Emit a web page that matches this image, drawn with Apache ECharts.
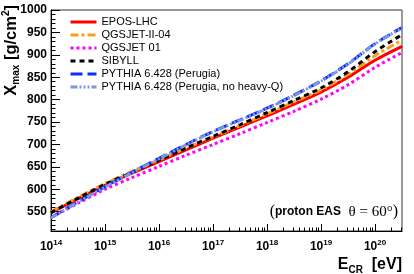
<!DOCTYPE html>
<html>
<head>
<meta charset="utf-8">
<script src="https://cdn.jsdelivr.net/npm/echarts@6/dist/echarts.min.js"></script>
<style>html,body{margin:0;padding:0;background:#fff;}#c{width:414px;height:274px;}</style>
</head>
<body>
<div id="c"></div>
<script>
// log10(E_CR / eV)
var logE = [14, 14.5, 15, 15.5, 16, 16.5, 17, 17.5, 18, 18.5, 19, 19.5, 20, 20.5];
var eposLHC   = [548, 579, 609, 636, 662, 688, 714, 739, 764, 790, 817, 850, 888, 919];
var qgsjetII04 = [550, 582, 613, 640, 666, 692, 717, 742, 768, 795, 822, 856, 898, 933];
var qgsjet01  = [537, 569, 600, 626, 651, 676, 700, 724, 749, 774, 801, 833, 872, 905];
var sibyll    = [548, 580, 611, 638, 665, 692, 718, 744, 771, 798, 826, 862, 907, 945];
var pythia    = [537, 572, 606, 638, 669, 700, 729, 755, 781, 810, 842, 880, 925, 961];
var pythiaNHQ = [536, 571, 605, 637, 668, 699, 728, 754, 780, 809, 841, 879, 924, 960];
var seriesNames = ['EPOS-LHC', 'QGSJET-II-04', 'QGSJET 01', 'SIBYLL', 'PYTHIA 6.428 (Perugia)', 'PYTHIA 6.428 (Perugia, no heavy-Q)'];
var xDecades = [14, 15, 16, 17, 18, 19, 20];
var yTicks = [550, 600, 650, 700, 750, 800, 850, 900, 950, 1000];

var FONT = '"Liberation Sans", Arial, Helvetica, sans-serif';
var SERIF = '"Liberation Serif", "Times New Roman", serif';
var xMin = 14, xMax = 20.5, yMin = 507, yMax = 1000;

var xMinor = [];
for (var d = 14; d <= 20; d++) {
  for (var k = 2; k <= 9; k++) {
    var v = d + Math.log10(k);
    if (v <= xMax) xMinor.push(v);
  }
}
var yMinor = [];
for (var y = 510; y <= 1000; y += 10) yMinor.push(y);

function pairs(vals) { return logE.map(function (x, i) { return [x, vals[i]]; }); }

var styles = [
  { color: '#ff0000', type: 'solid' },
  { color: '#ff9a1a', type: [8, 3, 3, 3] },
  { color: '#ff00ff', type: [3, 3] },
  { color: '#000000', type: [5, 4] },
  { color: '#0a2cff', type: [12, 5] },
  { color: '#7a9ae0', type: [7, 2, 2, 2, 2, 2, 2, 2] }
];
var dataSets = [eposLHC, qgsjetII04, qgsjet01, sibyll, pythia, pythiaNHQ];

var chart = echarts.init(document.getElementById('c'), null, { renderer: 'canvas' });
chart.setOption({
  animation: false,
  backgroundColor: '#fff',
  grid: { left: 51, right: 12, top: 10, bottom: 43, show: true, borderColor: '#333', borderWidth: 1, backgroundColor: 'transparent' },
  legend: {
    orient: 'vertical', left: 64, top: 11, itemWidth: 26, itemHeight: 12, itemGap: 1,
    selectedMode: false,
    textStyle: { fontSize: 11, fontFamily: FONT, color: '#000', lineHeight: 12 },
    lineStyle: { width: 3 },
    itemStyle: { opacity: 0, color: 'transparent', borderWidth: 0 },
    data: seriesNames
  },
  xAxis: [
    {
      type: 'value', min: xMin, max: xMax, position: 'bottom',
      axisLine: { show: true, lineStyle: { color: '#000', width: 1 } },
      axisTick: { show: true, inside: true, length: 7, customValues: xDecades, lineStyle: { color: '#000' } },
      splitLine: { show: false },
      axisLabel: {
        customValues: xDecades, margin: 8,
        formatter: function (v) { return '{b|10}{s|' + Math.round(v) + '}'; },
        rich: {
          b: { fontSize: 12, fontWeight: 'bold', fontFamily: FONT, color: '#000', lineHeight: 15 },
          s: { fontSize: 8, fontWeight: 'bold', fontFamily: FONT, color: '#000', verticalAlign: 'top', lineHeight: 15, padding: [0, 0, 3, 0] }
        }
      }
    },
    {
      type: 'value', min: xMin, max: xMax, position: 'bottom',
      axisLine: { show: false },
      axisTick: { show: true, inside: true, length: 3.5, customValues: xMinor, lineStyle: { color: '#000' } },
      axisLabel: { show: false },
      splitLine: { show: false }
    }
  ],
  yAxis: [
    {
      type: 'value', min: yMin, max: yMax, position: 'left',
      axisLine: { show: true, lineStyle: { color: '#000', width: 1 } },
      axisTick: { show: true, inside: true, length: 9, customValues: yTicks, lineStyle: { color: '#000' } },
      splitLine: { show: false },
      axisLabel: {
        customValues: yTicks, margin: 4, fontSize: 12, fontWeight: 'bold', fontFamily: FONT, color: '#000',
        formatter: function (v) { return String(Math.round(v)); }
      }
    },
    {
      type: 'value', min: yMin, max: yMax, position: 'left',
      axisLine: { show: false },
      axisTick: { show: true, inside: true, length: 4.5, customValues: yMinor, lineStyle: { color: '#000' } },
      axisLabel: { show: false },
      splitLine: { show: false }
    }
  ],
  series: dataSets.map(function (vals, i) {
    return {
      name: seriesNames[i], type: 'line', data: pairs(vals),
      xAxisIndex: 0, yAxisIndex: 0, symbol: 'none', smooth: 0.3,
      lineStyle: { width: 3, color: styles[i].color, type: styles[i].type, cap: 'butt' },
      itemStyle: { color: styles[i].color },
      z: 2 + i
    };
  }),
  graphic: [
    {
      type: 'text', x: 11, y: 5, rotation: Math.PI / 2,
      style: {
        text: '{b|X}{sub|max}{b| [g/cm}{sup|2}{b|]}',
        align: 'right', verticalAlign: 'middle',
        rich: {
          b: { fontSize: 16.5, fontWeight: 'bold', fontFamily: FONT, fill: '#000', lineHeight: 20 },
          sub: { fontSize: 10, fontWeight: 'bold', fontFamily: FONT, fill: '#000', verticalAlign: 'bottom', lineHeight: 20 },
          sup: { fontSize: 10, fontWeight: 'bold', fontFamily: FONT, fill: '#000', verticalAlign: 'top', lineHeight: 20 }
        }
      }
    },
    {
      type: 'text', x: 402, y: 265,
      style: {
        text: '{b|E}{sub|CR}{b|  [eV]}',
        align: 'right', verticalAlign: 'middle',
        rich: {
          b: { fontSize: 16, fontWeight: 'bold', fontFamily: FONT, fill: '#000', lineHeight: 20 },
          sub: { fontSize: 10, fontWeight: 'bold', fontFamily: FONT, fill: '#000', verticalAlign: 'bottom', lineHeight: 20 }
        }
      }
    },
    {
      type: 'text', x: 398, y: 212,
      style: {
        text: '{p|(}{b|proton EAS}{s|  θ = 60°}{p|)}',
        align: 'right', verticalAlign: 'middle',
        rich: {
          p: { fontSize: 16, fontFamily: SERIF, fill: '#000', lineHeight: 18 },
          b: { fontSize: 12, fontWeight: 'bold', fontFamily: FONT, fill: '#000', lineHeight: 18 },
          s: { fontSize: 15, fontFamily: SERIF, fill: '#000', lineHeight: 18 }
        }
      }
    }
  ]
});
</script>
</body>
</html>
